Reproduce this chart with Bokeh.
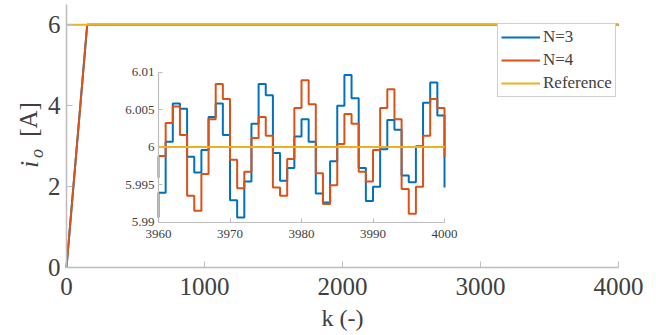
from math import pi
from bokeh.plotting import figure
from bokeh.models import Range1d, LinearAxis, FixedTicker, Legend, LegendItem, Label
from bokeh.embed import file_html
from bokeh.resources import INLINE

# ---------------- data ----------------
k_main = [0, 150, 4000]
i_n3_main = [0.0, 6.0, 6.0]
i_n4_main = [0.0, 6.0, 6.0]
k_ref = [0, 4000]
i_ref = [6.0, 6.0]

k_inset = list(range(3960, 4001))
i_n3_before = 5.9906   # value at k = 3959 (enters the inset from the left)
i_n3 = [5.9939, 6.0007, 6.0058, 6.0051, 5.9987, 5.9966, 5.9996, 6.0040, 6.0058, 6.0016,
        5.9929, 5.9906, 5.9954, 6.0031, 6.0084, 6.0069, 5.9992, 5.9955, 5.9972, 6.0014,
        6.0037, 6.0007, 5.9938, 5.9926, 5.9981, 6.0055, 6.0096, 6.0065, 5.9972, 5.9928,
        5.9947, 5.9997, 6.0036, 6.0023, 5.9962, 5.9953, 6.0001, 6.0059, 6.0086, 6.0042,
        5.9946]
i_n4_before = 5.9959
i_n4 = [5.9988, 6.0032, 6.0054, 6.0016, 5.9935, 5.9915, 5.9964, 6.0037, 6.0084, 6.0064,
        5.9983, 5.9945, 5.9967, 6.0012, 6.0040, 6.0015, 5.9946, 5.9935, 5.9984, 6.0052,
        6.0089, 6.0057, 5.9965, 5.9924, 5.9949, 6.0004, 6.0044, 6.0031, 5.9967, 5.9954,
        5.9996, 6.0052, 6.0077, 6.0037, 5.9944, 5.9911, 5.9947, 6.0015, 6.0064, 6.0052,
        5.9987]
k_inset_ref = [3960, 4000]
i_inset_ref = [6.0, 6.0]

x_ticks = [0, 1000, 2000, 3000, 4000]
y_ticks = [0, 2, 4, 6]
inset_x_ticks = [3960, 3970, 3980, 3990, 4000]
inset_y_ticks = [5.99, 5.995, 6.0, 6.005, 6.01]
inset_y_labels = ["5.99", "5.995", "6", "6.005", "6.01"]
series_names = ["N=3", "N=4", "Reference"]
x_label = "k (-)"

# ---------------- style / layout ----------------
BLUE = "#0072BD"
ORANGE = "#D95319"
YELLOW = "#EDB120"
AXIS = "#bdbdbd"
TXT = "#404040"
FONT = "'Liberation Serif', 'Times New Roman', 'DejaVu Serif', serif"

W, H = 656, 335
# main axes box in pixels: x 0..4000 -> 66..618, y 0..6.5 -> 267..4
X0, X1, Y0, Y1 = 0, 4000, 0.0, 6.5
PX0, PX1, PY0, PY1 = 66, 618, 267, 4
ux = (X1 - X0) / (PX1 - PX0)
uy = (Y1 - Y0) / (PY0 - PY1)

p = figure(width=W, height=H,
           x_range=Range1d(X0 - PX0 * ux, X1 + (W - PX1) * ux),
           y_range=Range1d(Y0 - (H - PY0) * uy, Y1 + PY1 * uy),
           x_axis_location=None, y_axis_location=None,
           output_backend="svg", toolbar_location=None,
           min_border_left=0, min_border_right=0, min_border_top=0, min_border_bottom=0)
p.outline_line_color = None
p.grid.visible = False
p.background_fill_color = "white"
p.border_fill_color = "white"


def style_axis(ax, size, tick_in, lw, standoff):
    ax.axis_line_color = AXIS
    ax.axis_line_width = lw
    ax.major_tick_line_color = AXIS
    ax.major_tick_line_width = 1
    ax.major_tick_in = tick_in
    ax.major_tick_out = 0
    ax.minor_tick_line_color = None
    ax.major_label_text_font = FONT
    ax.major_label_text_font_size = size
    ax.major_label_text_color = TXT
    ax.major_label_standoff = standoff


xa = LinearAxis(fixed_location=Y0, bounds=(X0, X1), ticker=FixedTicker(ticks=x_ticks))
ya = LinearAxis(fixed_location=X0, bounds=(Y0, Y1), ticker=FixedTicker(ticks=y_ticks))
style_axis(xa, "25px", 6, 1.5, 10)
style_axis(ya, "25px", 6, 1.5, 6)
p.add_layout(xa, "below")
p.add_layout(ya, "left")

# main curves
r3 = p.line(k_main, i_n3_main, line_color=BLUE, line_width=2)
r4 = p.line(k_main, i_n4_main, line_color=ORANGE, line_width=2)
rr = p.line(k_ref, i_ref, line_color=YELLOW, line_width=2)

# inset, drawn in the same canvas through extra ranges
IX0, IX1, IY0, IY1 = 3960, 4000, 5.99, 6.01
IPX0, IPX1, IPY0, IPY1 = 158, 444, 221.5, 71.5
iux = (IX1 - IX0) / (IPX1 - IPX0)
iuy = (IY1 - IY0) / (IPY0 - IPY1)
p.extra_x_ranges = {"ix": Range1d(IX0 - IPX0 * iux, IX1 + (W - IPX1) * iux)}
p.extra_y_ranges = {"iy": Range1d(IY0 - (H - IPY0) * iuy, IY1 + IPY1 * iuy)}

p.step([k_inset[0]] + k_inset, [i_n3_before] + i_n3, mode="after", line_color=BLUE,
       line_width=2, x_range_name="ix", y_range_name="iy")
p.step([k_inset[0]] + k_inset, [i_n4_before] + i_n4, mode="after", line_color=ORANGE,
       line_width=2, x_range_name="ix", y_range_name="iy")
p.line(k_inset_ref, i_inset_ref, line_color=YELLOW, line_width=2,
       x_range_name="ix", y_range_name="iy")

ax_ix = LinearAxis(x_range_name="ix", y_range_name="iy", fixed_location=IY0,
                   bounds=(IX0, IX1), ticker=FixedTicker(ticks=inset_x_ticks))
ax_iy = LinearAxis(x_range_name="ix", y_range_name="iy", fixed_location=IX0,
                   bounds=(IY0, IY1), ticker=FixedTicker(ticks=inset_y_ticks),
                   major_label_overrides=dict(zip(inset_y_ticks, inset_y_labels)))
style_axis(ax_ix, "13px", 4, 1.2, 8)
style_axis(ax_iy, "13px", 4, 1.2, 4)
p.add_layout(ax_ix, "below")
p.add_layout(ax_iy, "left")


def sx(px):
    return X0 + (px - PX0) * ux


def sy(py):
    return Y0 + (PY0 - py) * uy


# axis labels
p.add_layout(Label(x=sx(342), y=sy(317), text=x_label, text_font=FONT,
                   text_font_size="24px", text_color=TXT,
                   text_align="center", text_baseline="middle"))
p.add_layout(Label(x=sx(29), y=sy(164), text="i", angle=pi / 2,
                   text_font=FONT, text_font_style="italic", text_font_size="26px",
                   text_color=TXT, text_align="center", text_baseline="middle"))
p.add_layout(Label(x=sx(36), y=sy(153), text="o", angle=pi / 2,
                   text_font=FONT, text_font_style="italic", text_font_size="18px",
                   text_color=TXT, text_align="center", text_baseline="middle"))
p.add_layout(Label(x=sx(28), y=sy(119), text="[A]", angle=pi / 2,
                   text_font=FONT, text_font_size="25px",
                   text_color=TXT, text_align="center", text_baseline="middle"))

legend = Legend(items=[LegendItem(label=series_names[0], renderers=[r3]),
                       LegendItem(label=series_names[1], renderers=[r4]),
                       LegendItem(label=series_names[2], renderers=[rr])],
                location=(497, H - 97))
legend.label_text_font = FONT
legend.label_text_font_size = "17px"
legend.label_text_color = TXT
legend.glyph_width = 39
legend.glyph_height = 18
legend.label_height = 18
legend.label_standoff = 3
legend.spacing = 3
legend.padding = 3
legend.margin = 0
legend.border_line_color = "#a0a0a0"
legend.border_line_width = 1
legend.background_fill_color = "white"
legend.background_fill_alpha = 1.0
p.add_layout(legend)

open("out.html", "w").write(file_html(p, INLINE))
